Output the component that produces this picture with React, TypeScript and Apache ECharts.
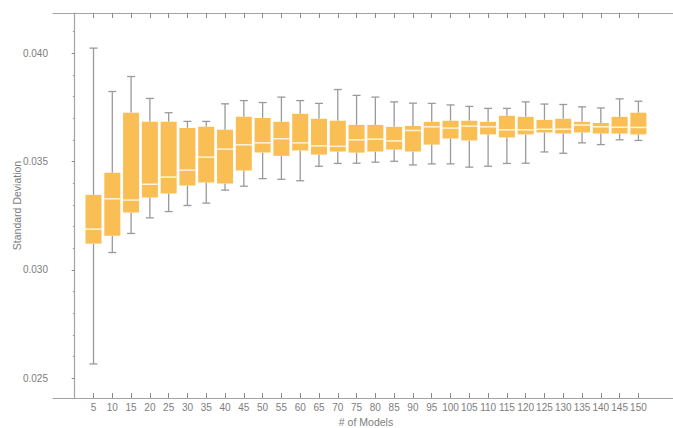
import React, { useEffect, useRef } from "react";
import * as echarts from "echarts";

const categories = [5, 10, 15, 20, 25, 30, 35, 40, 45, 50, 55, 60, 65, 70, 75, 80, 85, 90, 95, 100, 105, 110, 115, 120, 125, 130, 135, 140, 145, 150];
const highs = [0.04023, 0.03823, 0.03892, 0.03791, 0.03725, 0.03685, 0.03685, 0.03766, 0.03781, 0.03772, 0.03797, 0.03781, 0.03768, 0.03832, 0.03805, 0.03797, 0.03775, 0.03769, 0.03768, 0.03761, 0.03754, 0.03745, 0.03745, 0.03775, 0.03765, 0.03763, 0.03752, 0.03747, 0.03789, 0.03778];
const q3s = [0.03346, 0.03448, 0.03725, 0.03683, 0.03683, 0.03655, 0.0366, 0.03646, 0.03706, 0.03701, 0.03683, 0.0372, 0.03697, 0.03688, 0.03669, 0.03669, 0.0366, 0.03664, 0.03683, 0.03688, 0.03688, 0.03683, 0.03711, 0.03706, 0.03692, 0.03697, 0.03683, 0.03678, 0.03706, 0.03725];
const medians = [0.03188, 0.03328, 0.03322, 0.03395, 0.03428, 0.0346, 0.0352, 0.03557, 0.03577, 0.03586, 0.03605, 0.03586, 0.03572, 0.0357, 0.036, 0.03603, 0.03595, 0.03643, 0.0366, 0.03654, 0.03663, 0.0366, 0.03646, 0.03646, 0.03649, 0.03649, 0.03668, 0.0366, 0.03658, 0.03657];
const q1s = [0.03121, 0.03158, 0.03265, 0.03334, 0.03352, 0.03389, 0.03403, 0.03398, 0.03458, 0.03541, 0.03526, 0.03551, 0.03532, 0.03546, 0.03541, 0.03546, 0.03555, 0.03546, 0.03578, 0.03606, 0.03597, 0.03625, 0.03611, 0.03625, 0.03634, 0.03629, 0.03634, 0.03629, 0.03629, 0.03625];
const lows = [0.02566, 0.0308, 0.03168, 0.0324, 0.03269, 0.03297, 0.03308, 0.03368, 0.03386, 0.03421, 0.03418, 0.03411, 0.03478, 0.03491, 0.03492, 0.03497, 0.03501, 0.03484, 0.03489, 0.03489, 0.03474, 0.03478, 0.03491, 0.03492, 0.03544, 0.03538, 0.03586, 0.03578, 0.036, 0.03597];

const yMajorTicks = [0.025, 0.03, 0.035, 0.04];
const yMinorTicks = [0.026, 0.027, 0.028, 0.029, 0.031, 0.032, 0.033, 0.034, 0.036, 0.037, 0.038, 0.039, 0.041];

const AXIS_COLOR = "#a3a3a3";
const TEXT_COLOR = "#7d7d7d";
const BOX_COLOR = "#F9BE54";
const WHISKER_COLOR = "#9a9a9a";
const FONT = "Liberation Sans";

export default function App() {
  const ref = useRef<HTMLDivElement>(null);
  useEffect(() => {
    if (!ref.current) return;
    const chart = echarts.init(ref.current, undefined, { renderer: "svg" });
    const data = categories.map((c, i) => [c, lows[i], q1s[i], medians[i], q3s[i], highs[i]]);
    const xMin = -5.78;
    const xMax = 160.8;
    const yMin = 0.02409;
    const yMax = 0.04185;

    const option: any = {
      animation: false,
      backgroundColor: "#ffffff",
      grid: { left: 53, top: 13, right: -6, bottom: 30, outerBoundsMode: "none" },
      xAxis: [
        {
          type: "value",
          position: "bottom",
          min: xMin,
          max: xMax,
          splitLine: { show: false },
          axisLine: { show: true, lineStyle: { color: AXIS_COLOR, width: 1.2 } },
          axisTick: { show: true, inside: true, length: 5, customValues: categories, lineStyle: { color: "#8a8a8a" } },
          axisLabel: { show: true, customValues: categories, color: TEXT_COLOR, fontSize: 10, fontFamily: FONT, margin: 4 },
          name: "# of Models",
          nameLocation: "middle",
          nameGap: 18,
          nameMoveOverlap: false,
          nameTextStyle: { color: TEXT_COLOR, fontSize: 10.5, fontFamily: FONT },
        },
        {
          type: "value",
          position: "top",
          min: xMin,
          max: xMax,
          splitLine: { show: false },
          axisLine: { show: true, lineStyle: { color: AXIS_COLOR, width: 1.2 } },
          axisTick: { show: true, inside: true, length: 5, customValues: categories, lineStyle: { color: "#8a8a8a" } },
          axisLabel: { show: false },
        },
      ],
      yAxis: [
        {
          type: "value",
          position: "left",
          min: yMin,
          max: yMax,
          splitLine: { show: false },
          axisLine: { show: true, lineStyle: { color: AXIS_COLOR, width: 1.2 } },
          axisTick: { show: true, inside: false, length: 3, customValues: yMajorTicks, lineStyle: { color: "#8a8a8a" } },
          axisLabel: {
            show: true,
            customValues: yMajorTicks,
            formatter: (v: number) => v.toFixed(3),
            color: TEXT_COLOR,
            fontSize: 10,
            fontFamily: FONT,
            margin: 5,
          },
          name: "Standard Deviation",
          nameLocation: "middle",
          nameGap: 31,
          nameMoveOverlap: false,
          nameTextStyle: { color: TEXT_COLOR, fontSize: 10.5, fontFamily: FONT },
        },
        {
          type: "value",
          position: "left",
          min: yMin,
          max: yMax,
          splitLine: { show: false },
          axisLine: { show: false },
          axisTick: { show: true, inside: false, length: 1.8, customValues: yMinorTicks, lineStyle: { color: "#9a9a9a" } },
          axisLabel: { show: false },
        },
      ],
      series: [
        {
          type: "custom",
          xAxisIndex: 0,
          yAxisIndex: 0,
          data,
          encode: { x: 0, y: [1, 2, 3, 4, 5] },
          renderItem: (params: any, api: any) => {
            const x = api.value(0);
            const pLow = api.coord([x, api.value(1)]);
            const pQ1 = api.coord([x, api.value(2)]);
            const pMed = api.coord([x, api.value(3)]);
            const pQ3 = api.coord([x, api.value(4)]);
            const pHigh = api.coord([x, api.value(5)]);
            const halfW = api.size([4.26, 0])[0] / 2;
            const capHalf = 4;
            const cx = pMed[0];
            const wStyle = { stroke: WHISKER_COLOR, lineWidth: 1.3 };
            return {
              type: "group",
              children: [
                { type: "line", shape: { x1: cx, y1: pHigh[1], x2: cx, y2: pQ3[1] }, style: wStyle },
                { type: "line", shape: { x1: cx, y1: pQ1[1], x2: cx, y2: pLow[1] }, style: wStyle },
                { type: "line", shape: { x1: cx - capHalf, y1: pHigh[1], x2: cx + capHalf, y2: pHigh[1] }, style: wStyle },
                { type: "line", shape: { x1: cx - capHalf, y1: pLow[1], x2: cx + capHalf, y2: pLow[1] }, style: wStyle },
                {
                  type: "rect",
                  shape: { x: cx - halfW, y: pQ3[1], width: halfW * 2, height: pQ1[1] - pQ3[1] },
                  style: { fill: BOX_COLOR },
                },
                {
                  type: "line",
                  shape: { x1: cx - halfW, y1: pMed[1], x2: cx + halfW, y2: pMed[1] },
                  style: { stroke: "rgba(255,248,228,0.95)", lineWidth: 1.5 },
                },
              ],
            };
          },
        },
      ],
    };
    chart.setOption(option);
    return () => chart.dispose();
  }, []);
  return <div ref={ref} style={{ position: "fixed", left: 0, top: 0, width: 673, height: 428 }} />;
}
